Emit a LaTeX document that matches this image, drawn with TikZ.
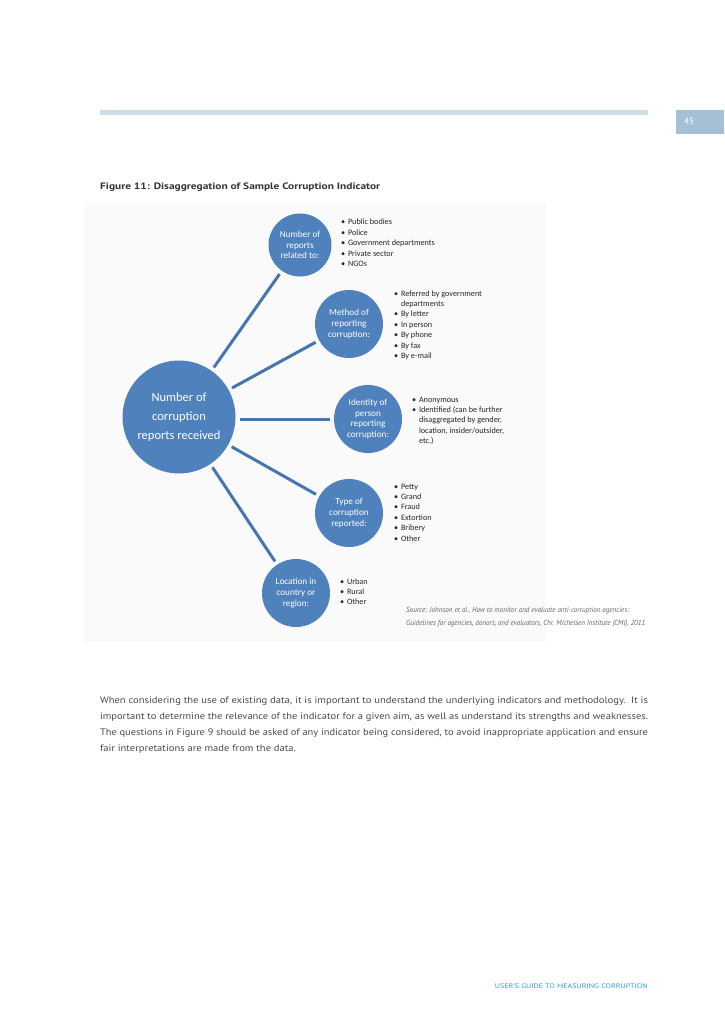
\documentclass[tikz,border=0pt]{standalone}
\usepackage{fontspec}
\setmainfont{PT Sans}
\newfontfamily\calib{Carlito}
\usepackage{graphicx}
\newlength\fitlen
\newcommand\hfit[2]{\settowidth\fitlen{#2}\pgfmathsetmacro\fitratio{#1/\fitlen}\scalebox{\fitratio}[1]{#2}}
\definecolor{cblue}{HTML}{4F81BD}
\definecolor{lineblue}{HTML}{4675B0}
\definecolor{barblue}{HTML}{CEDDE8}
\definecolor{pgblue}{HTML}{A5C0D4}
\definecolor{footblue}{HTML}{2F9FD3}
\definecolor{bodygray}{HTML}{4A4A4A}
\newcommand\bl[1]{\makebox[7pt][l]{\textbullet}#1}
\newcommand\bc[1]{\hspace*{7pt}#1}
\tikzset{
  bub/.style={circle, fill=cblue, inner sep=0pt, outer sep=0pt, text=white, align=center,
    font=\calib\fontsize{9.2}{10.8}\selectfont},
  conn/.style={draw=lineblue, line width=3pt, shorten <=4pt, shorten >=4pt},
  blist/.style={anchor=base west, align=left, inner sep=0pt, outer sep=0pt,
    font=\calib\fontsize{8.2}{10.4}\selectfont, text=black!85},
  ptext/.style={anchor=base west, inner sep=0pt, outer sep=0pt, text=bodygray,
    font=\fontsize{9.4}{12}\selectfont},
}
\begin{document}
\begin{tikzpicture}[x=1pt,y=-1pt]
\useasboundingbox (0,0) rectangle (724,1024);
\fill[white] (0,0) rectangle (724,1024);
% header
\fill[barblue] (100,110) rectangle (648,115);
\fill[pgblue] (676,110) rectangle (724,134);
\node[anchor=base west, inner sep=0pt, text=white, font=\fontsize{9}{10}\selectfont] (pg) at (684,125) {45};
% title
\node[anchor=base west, inner sep=0pt, text=black!80, font=\bfseries\fontsize{9.3}{11}\selectfont] (title) at (100,190)
  {\hfit{280pt}{Figure 11: Disaggregation of Sample Corruption Indicator}};
% diagram background
\fill[black!2] (84,203) rectangle (546,642);
% circles
\node[bub, minimum size=113pt, font=\calib\fontsize{12.5}{19}\selectfont] (main) at (179,417)
  {Number of\\corruption\\reports received};
\node[bub, minimum size=63pt] (c1) at (300,245) {Number of\\reports\\related to:};
\node[bub, minimum size=68pt] (c2) at (349,324) {Method of\\reporting\\corruption:};
\node[bub, minimum size=68pt] (c3) at (368,419) {Identity of\\person\\reporting\\corruption:};
\node[bub, minimum size=68pt] (c4) at (349,513) {Type of\\corruption\\reported:};
\node[bub, minimum size=68pt] (c5) at (296,593) {Location in\\country or\\region:};
% connectors
\draw[conn] (main) -- (c1);
\draw[conn] (main) -- (c2);
\draw[conn] (main.east |- c3) -- (c3);
\draw[conn] (main) -- (c4);
\draw[conn] (main) -- (c5);
% bullet lists (anchored at the baseline of their last line)
\node[blist] (l1) at (341,266.6) {\bl{Public bodies}\\\bl{Police}\\\bl{Government departments}\\\bl{Private sector}\\\bl{NGOs}};
\node[blist] (l2) at (394,358.4) {\bl{Referred by government}\\\bc{departments}\\\bl{By letter}\\\bl{In person}\\\bl{By phone}\\\bl{By fax}\\\bl{By e-mail}};
\node[blist] (l3) at (412,443.6) {\bl{Anonymous}\\\bl{Identified (can be further}\\\bc{disaggregated by gender,}\\\bc{location, insider/outsider,}\\\bc{etc.)}};
\node[blist] (l4) at (394,541) {\bl{Petty}\\\bl{Grand}\\\bl{Fraud}\\\bl{Extortion}\\\bl{Bribery}\\\bl{Other}};
\node[blist] (l5) at (340,604.8) {\bl{Urban}\\\bl{Rural}\\\bl{Other}};
% source
\node[anchor=base west, inner sep=0pt, text=black!60, font=\itshape\fontsize{7.4}{9}\selectfont] (src1) at (406,612)
  {\hfit{223pt}{Source: Johnson et al., How to monitor and evaluate anti-corruption agencies:}};
\node[anchor=base west, inner sep=0pt, text=black!60, font=\itshape\fontsize{7.4}{9}\selectfont] (src2) at (406,625)
  {\hfit{239pt}{Guidelines for agencies, donors, and evaluators, Chr. Michelsen Institute (CMI), 2011}};
% body paragraph
\node[ptext] (p1) at (100,703) {\hfit{548pt}{When considering the use of existing data, it is important to understand the underlying indicators and methodology.\ \ It is}};
\node[ptext] (p2) at (100,719) {\hfit{548pt}{important to determine the relevance of the indicator for a given aim, as well as understand its strengths and weaknesses.}};
\node[ptext] (p3) at (100,735) {\hfit{548pt}{The questions in Figure 9 should be asked of any indicator being considered, to avoid inappropriate application and ensure}};
\node[ptext] (p4) at (100,751) {\hfit{196pt}{fair interpretations are made from the data.}};
% footer
\node[anchor=base east, inner sep=0pt, text=footblue, font=\fontsize{6.6}{8}\selectfont] (foot) at (648,988)
  {\hfit{153pt}{USER'S GUIDE TO MEASURING CORRUPTION}};
\end{tikzpicture}
\end{document}
